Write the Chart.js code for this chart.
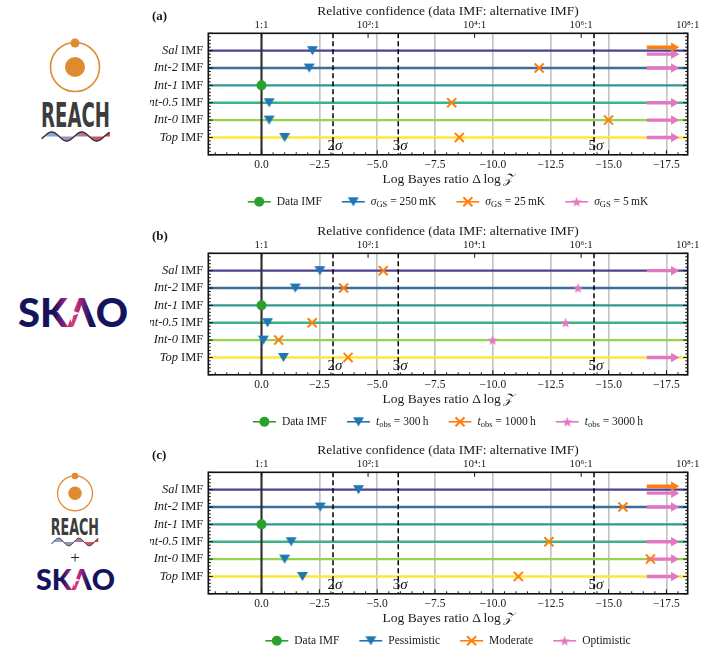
<!DOCTYPE html>
<html>
<head>
<meta charset="utf-8">
<script src="https://cdn.jsdelivr.net/npm/chart.js@4.4.1/dist/chart.umd.min.js"></script>
<style>
  body { margin: 0; background: #fff; width: 709px; height: 670px; position: relative; overflow: hidden; }
  .panel { position: absolute; left: 150px; width: 559px; }
  #logos { position: absolute; left: 0; top: 0; }
</style>
</head>
<body>
<div class="panel" style="top:0;height:220px"><canvas id="chartA"></canvas></div>
<div class="panel" style="top:220px;height:219px"><canvas id="chartB"></canvas></div>
<div class="panel" style="top:439px;height:231px"><canvas id="chartC"></canvas></div>

<svg id="logos" width="150" height="670" viewBox="0 0 150 670">
  <defs>
    <linearGradient id="waveA" gradientUnits="userSpaceOnUse" x1="42" y1="0" x2="110" y2="0">
      <stop offset="0" stop-color="#86aeea"/><stop offset="0.5" stop-color="#a585b2"/><stop offset="1" stop-color="#e43a3a"/>
    </linearGradient>
    <linearGradient id="waveC" gradientUnits="userSpaceOnUse" x1="52" y1="0" x2="98" y2="0">
      <stop offset="0" stop-color="#86aeea"/><stop offset="0.5" stop-color="#a585b2"/><stop offset="1" stop-color="#e43a3a"/>
    </linearGradient>
    <linearGradient id="skaoB" gradientUnits="userSpaceOnUse" x1="18" y1="0" x2="128" y2="0">
      <stop offset="0" stop-color="#14135c"/><stop offset="0.33" stop-color="#14135c"/>
      <stop offset="0.42" stop-color="#8e1f7e"/><stop offset="0.50" stop-color="#e33c6e"/>
      <stop offset="0.58" stop-color="#8e1f7e"/><stop offset="0.66" stop-color="#14135c"/>
      <stop offset="1" stop-color="#14135c"/>
    </linearGradient>
    <linearGradient id="skaoC" gradientUnits="userSpaceOnUse" x1="36" y1="0" x2="115" y2="0">
      <stop offset="0" stop-color="#14135c"/><stop offset="0.33" stop-color="#14135c"/>
      <stop offset="0.42" stop-color="#8e1f7e"/><stop offset="0.50" stop-color="#e33c6e"/>
      <stop offset="0.58" stop-color="#8e1f7e"/><stop offset="0.66" stop-color="#14135c"/>
      <stop offset="1" stop-color="#14135c"/>
    </linearGradient>
  </defs>

  <!-- REACH (a) -->
  <circle cx="75" cy="67" r="24.5" fill="none" stroke="#e08b2f" stroke-width="1.6"/>
  <circle cx="75" cy="43" r="4.5" fill="#e08b2f"/>
  <circle cx="75" cy="67" r="10" fill="#e08b2f"/>
  <text x="41" y="126.7" font-family="DejaVu Sans Condensed, Liberation Sans" font-weight="bold" font-size="34"
        textLength="69" lengthAdjust="spacingAndGlyphs" fill="#3c3c3c">REACH</text>
  <path id="waveAFill" fill="url(#waveA)"/>
  <path id="waveALine" fill="none" stroke="#2b2b2b" stroke-width="1.3"/>

  <!-- SKAO (b) -->
  <text x="18" y="326.7" font-family="Lato, Roboto, sans-serif" font-weight="900" font-size="39"
        textLength="110" lengthAdjust="spacingAndGlyphs" fill="url(#skaoB)">SKΛO</text>
  <path d="M71.5,304 L73.3,311 L80,313.3 L73.3,315.6 L71.5,322.5 L69.7,315.6 L63,313.3 L69.7,311 Z" fill="#fff"/>

  <!-- REACH + SKAO (c) -->
  <circle cx="75" cy="493.3" r="17.5" fill="none" stroke="#e08b2f" stroke-width="1.3"/>
  <circle cx="75" cy="476" r="3.3" fill="#e08b2f"/>
  <circle cx="75" cy="493.3" r="6.7" fill="#e08b2f"/>
  <text x="50.7" y="535" font-family="DejaVu Sans Condensed, Liberation Sans" font-weight="bold" font-size="23"
        textLength="48.3" lengthAdjust="spacingAndGlyphs" fill="#3c3c3c">REACH</text>
  <path id="waveCFill" fill="url(#waveC)"/>
  <path id="waveCLine" fill="none" stroke="#2b2b2b" stroke-width="1"/>
  <text x="75" y="563" text-anchor="middle" font-family="Liberation Serif" font-size="17" fill="#222">+</text>
  <text x="36" y="590" font-family="Lato, Roboto, sans-serif" font-weight="900" font-size="28"
        textLength="79" lengthAdjust="spacingAndGlyphs" fill="url(#skaoC)">SKΛO</text>
  <path d="M74.3,573.5 L75.6,578.4 L80.5,580 L75.6,581.6 L74.3,586.5 L73,581.6 L68.1,580 L73,578.4 Z" fill="#fff"/>
</svg>

<script>
// values beyond the right end of the axis are drawn as arrows
const OFF = -Infinity;

const imfNames = ["Sal", "Int-2", "Int-1", "Int-0.5", "Int-0", "Top"];
const xTicks = [0, -2.5, -5, -7.5, -10, -12.5, -15, -17.5];
const oddsPowers = [0, 2, 4, 6, 8];          // top axis: 10^k : 1
const sigmaNames = ["2", "3", "5"];
const sigmaLogZ = [-3.09, -5.91, -14.37];
const dataImf = [null, null, 0, null, null, null];

// (a) REACH, noise levels in mK
const reachNoise = [250, 25, 5];
const reachHigh = [-2.2, -2.06, null, -0.33, -0.33, -1.0];
const reachMid = [OFF, -12.0, null, -8.22, -15.0, -8.55];
const reachLow = [OFF, OFF, null, OFF, OFF, OFF];

// (b) SKAO, integration time in hours
const skaoHours = [300, 1000, 3000];
const skao300 = [-2.52, -1.46, null, -0.26, -0.08, -0.95];
const skao1000 = [-5.26, -3.55, null, -2.19, -0.74, -3.74];
const skao3000 = [OFF, -13.68, null, -13.14, -9.99, OFF];

// (c) REACH + SKAO
const jointNames = ["Pessimistic", "Moderate", "Optimistic"];
const jointPess = [-4.19, -2.54, null, -1.28, -1.0, -1.77];
const jointMod = [OFF, -15.62, null, -12.42, -16.81, -11.1];
const jointOpt = [OFF, OFF, null, OFF, OFF, OFF];

// styles
const rowColors = ["#4c4390", "#3a6e9b", "#2f9893", "#3db383", "#93d64c", "#fde73a"];
const GREEN = "#2ca02c", BLUE = "#1f77b4", ORANGE = "#ff7f0e", PINK = "#e377c2";
const SERIF = '"Liberation Serif", "Times New Roman", serif';
const f = (size, style) => (style ? style + " " : "") + size + "px " + SERIF;
const X_MIN = -18.42, X_MAX = 2.3;
const PLOT_TOP = 33.3, PLOT_BOTTOM = 154.8;
const ARROW_FROM = -16.65, ARROW_TO = -17.82;

// marker images
function markerCanvas(size, draw) {
  const c = document.createElement("canvas");
  c.width = c.height = size;
  draw(c.getContext("2d"), size / 2);
  return c;
}
const triImg = markerCanvas(13, (g, m) => {
  g.fillStyle = BLUE;
  g.beginPath();
  g.moveTo(m - 5.5, m - 4.6); g.lineTo(m + 5.5, m - 4.6); g.lineTo(m, m + 4.6);
  g.closePath(); g.fill();
});
const starImg = markerCanvas(13, (g, m) => {
  g.fillStyle = PINK;
  g.beginPath();
  for (let k = 0; k < 10; k++) {
    const r = k % 2 ? 2.3 : 5.4;
    const ang = -Math.PI / 2 + k * Math.PI / 5;
    g.lineTo(m + r * Math.cos(ang), m + 0.5 + r * Math.sin(ang));
  }
  g.closePath(); g.fill();
});

function drawRich(ctx, segs, x, y, align) {
  let w = 0;
  segs.forEach(s => { ctx.font = s.font; w += ctx.measureText(s.t).width; });
  let cx = align === "center" ? x - w / 2 : align === "right" ? x - w : x;
  ctx.textBaseline = "middle";
  ctx.textAlign = "left";
  segs.forEach(s => {
    ctx.font = s.font;
    ctx.fillText(s.t, cx, y + (s.dy || 0));
    cx += ctx.measureText(s.t).width;
  });
  return w;
}
function richWidth(ctx, segs) {
  let w = 0;
  segs.forEach(s => { ctx.font = s.font; w += ctx.measureText(s.t).width; });
  return w;
}

function drawMarker(ctx, mk, color, x, y) {
  if (mk === "circle") {
    ctx.fillStyle = color;
    ctx.beginPath(); ctx.arc(x, y, 5, 0, Math.PI * 2); ctx.fill();
  } else if (mk === "x") {
    ctx.strokeStyle = color; ctx.lineWidth = 2;
    const d = 4.5;
    ctx.beginPath();
    ctx.moveTo(x - d, y - d); ctx.lineTo(x + d, y + d);
    ctx.moveTo(x - d, y + d); ctx.lineTo(x + d, y - d);
    ctx.stroke();
  } else {
    const img = mk === "tri" ? triImg : starImg;
    ctx.drawImage(img, x - img.width / 2, y - img.height / 2);
  }
}

const supDigits = { 0: "⁰", 2: "²", 4: "⁴", 6: "⁶", 8: "⁸" };
const oddsLabel = p => (p === 0 ? "1:1" : "10" + supDigits[p] + ":1");
const tickLabel = v => (v === 0 ? "0.0" : "\u2212" + Math.abs(v).toFixed(1));

function decor(tag, legendItems) {
  return {
    id: "decor" + tag,
    beforeDatasetsDraw(chart) {
      const { ctx, chartArea: a, scales: { x, y } } = chart;
      ctx.save();
      imfNames.forEach((n, i) => {
        const py = y.getPixelForValue(i);
        ctx.strokeStyle = rowColors[i];
        ctx.lineWidth = 2.4;
        ctx.beginPath(); ctx.moveTo(a.left, py); ctx.lineTo(a.right, py); ctx.stroke();
      });
      const x0 = x.getPixelForValue(0);
      ctx.strokeStyle = "#333"; ctx.lineWidth = 2.2;
      ctx.beginPath(); ctx.moveTo(x0, a.top); ctx.lineTo(x0, a.bottom); ctx.stroke();

      sigmaLogZ.forEach((v, k) => {
        const px = x.getPixelForValue(v);
        ctx.strokeStyle = "#000"; ctx.lineWidth = 1.5; ctx.setLineDash([5, 3]);
        ctx.beginPath(); ctx.moveTo(px, a.top); ctx.lineTo(px, a.bottom); ctx.stroke();
        ctx.setLineDash([]);
        ctx.fillStyle = "#111";
        drawRich(ctx, [{ t: sigmaNames[k], font: f(15) }, { t: "σ", font: f(15, "italic") }],
          px + 2, a.bottom - 9, "center");
      });
      ctx.restore();
    },
    afterDraw(chart) {
      const { ctx, chartArea: a, scales: { x, x2, y } } = chart;
      ctx.save();
      ctx.strokeStyle = "#111";
      ctx.lineWidth = 1;
      ctx.beginPath();
      xTicks.forEach(v => {
        const px = x.getPixelForValue(v);
        ctx.moveTo(px, a.bottom); ctx.lineTo(px, a.bottom - 4.5);
      });
      for (let k = Math.ceil(X_MIN / 0.5); k <= Math.floor(X_MAX / 0.5); k++) {
        if (k % 5 === 0) continue;
        const px = x.getPixelForValue(k * 0.5);
        ctx.moveTo(px, a.bottom); ctx.lineTo(px, a.bottom - 2.5);
      }
      oddsPowers.forEach(p => {
        const px = x2.getPixelForValue(-p * Math.LN10);
        ctx.moveTo(px, a.top); ctx.lineTo(px, a.top + 4.5);
      });
      for (let k = -5; k <= 30; k++) {
        const v = k * 0.2;
        const py = y.getPixelForValue(v);
        const len = k % 5 === 0 ? 4.5 : 2.5;
        ctx.moveTo(a.left, py); ctx.lineTo(a.left + len, py);
        ctx.moveTo(a.right, py); ctx.lineTo(a.right - len, py);
      }
      ctx.stroke();

      ctx.lineWidth = 1.6;
      ctx.strokeRect(a.left, a.top, a.right - a.left, a.bottom - a.top);

      ctx.fillStyle = "#1a1a1a";
      imfNames.forEach((n, i) => {
        const py = y.getPixelForValue(i);
        drawRich(ctx, [{ t: n, font: f(12.5, "italic") }, { t: " IMF", font: f(12.5) }], a.left - 5, py, "right");
      });

      const cx = (a.left + a.right) / 2;
      drawRich(ctx, [{ t: "Relative confidence (data IMF: alternative IMF)", font: f(13.5) }], cx, a.top - 22, "center");
      drawRich(ctx, [{ t: "Log Bayes ratio \u0394\u2009log\u2009", font: f(13.5) }, { t: "\uD835\uDCB5", font: f(13.5, "italic") }],
        cx, a.bottom + 24.5, "center");
      drawRich(ctx, [{ t: tag, font: f(13, "bold") }], 2, a.top - 17, "left");

      // legend
      const handle = 23, gapText = 6, gapItem = 20;
      const widths = legendItems.map(it => handle + gapText + richWidth(ctx, it.segs));
      const total = widths.reduce((s, w) => s + w, 0) + gapItem * (legendItems.length - 1);
      let lx = cx - total / 2;
      const ly = a.bottom + 47;
      legendItems.forEach((it, k) => {
        ctx.strokeStyle = it.color; ctx.lineWidth = 1.6;
        ctx.beginPath(); ctx.moveTo(lx, ly); ctx.lineTo(lx + handle, ly); ctx.stroke();
        drawMarker(ctx, it.mk, it.color, lx + handle / 2, ly);
        ctx.fillStyle = "#1a1a1a";
        drawRich(ctx, it.segs, lx + handle + gapText, ly, "left");
        lx += widths[k] + gapItem;
      });
      ctx.restore();
    }
  };
}

function scatterSet(values, style) {
  const pts = [];
  values.forEach((v, i) => { if (v !== null && Number.isFinite(v)) pts.push({ x: v, y: i }); });
  return Object.assign({ type: "scatter", data: pts, order: 0 }, style);
}

function arrowSets(values, color, shifts) {
  const sets = [];
  values.forEach((v, i) => {
    if (v !== OFF) return;
    const yy = i + shifts[i];
    sets.push({
      type: "line",
      data: [{ x: ARROW_FROM, y: yy }, { x: ARROW_TO, y: yy }],
      borderColor: color, borderWidth: 3.4, borderCapStyle: "butt",
      pointRadius: c => (c.dataIndex === 1 ? 5.5 : 0),
      pointStyle: "triangle", pointRotation: 90,
      pointBackgroundColor: color, pointBorderColor: color, pointBorderWidth: 0,
      order: 1
    });
  });
  return sets;
}

function buildPanel(id, tag, s1, s2, s3, legendItems) {
  const both = imfNames.map((_, i) => s2[i] === OFF && s3[i] === OFF);
  const datasets = [
    scatterSet(dataImf, { pointStyle: "circle", pointRadius: 5, pointBackgroundColor: GREEN, pointBorderWidth: 0 }),
    scatterSet(s1, { pointStyle: triImg, pointRadius: 5 }),
    scatterSet(s2, { pointStyle: "crossRot", pointRadius: 6.4, pointBorderColor: ORANGE, pointBorderWidth: 2 }),
    scatterSet(s3, { pointStyle: starImg, pointRadius: 6 }),
    ...arrowSets(s2, ORANGE, both.map(b => (b ? -0.2 : 0))),
    ...arrowSets(s3, PINK, both.map(b => (b ? 0.2 : 0)))
  ];

  new Chart(document.getElementById(id), {
    type: "scatter",
    data: { datasets },
    options: {
      responsive: true,
      maintainAspectRatio: false,
      animation: false,
      events: [],
      layout: { padding: { left: 0, right: 21.3, top: 0, bottom: 0 } },
      plugins: { legend: { display: false }, tooltip: { enabled: false } },
      scales: {
        x: {
          type: "linear", position: "bottom", min: X_MIN, max: X_MAX, reverse: true, bounds: "data",
          afterBuildTicks: s => { s.ticks = xTicks.map(v => ({ value: v })); },
          afterFit: s => { s.height = s.chart.height - PLOT_BOTTOM; },
          ticks: { callback: v => tickLabel(v), font: { family: SERIF, size: 11.5 }, color: "#1a1a1a",
                   padding: 3, maxRotation: 0, autoSkip: false },
          grid: { drawTicks: false, lineWidth: 1.7,
                  color: c => (c.tick && c.tick.value === 0 ? "rgba(0,0,0,0)" : "#c4c4c4") },
          border: { display: false }
        },
        x2: {
          type: "linear", position: "top", axis: "x", min: X_MIN, max: X_MAX, reverse: true, bounds: "data",
          afterBuildTicks: s => { s.ticks = oddsPowers.map(p => ({ value: -p * Math.LN10 })); },
          afterFit: s => { s.height = PLOT_TOP; },
          ticks: { callback: v => oddsLabel(Math.round(-v / Math.LN10)), font: { family: SERIF, size: 11 },
                   color: "#1a1a1a", padding: 2, maxRotation: 0, autoSkip: false },
          grid: { display: false, drawTicks: false },
          border: { display: false }
        },
        y: {
          type: "linear", min: -1, max: 6, reverse: true,
          afterFit: s => { s.width = 58.3; },
          ticks: { display: false },
          grid: { display: false, drawTicks: false },
          border: { display: false }
        }
      }
    },
    plugins: [decor(tag, legendItems)]
  });
}

const plain = t => [{ t, font: f(11.5) }];
const sigmaGS = v => [{ t: "σ", font: f(11.5, "italic") }, { t: "GS", font: f(8.5), dy: 2.5 }, { t: " = " + v + "\u2009mK", font: f(11.5) }];
const tObs = v => [{ t: "t", font: f(11.5, "italic") }, { t: "obs", font: f(8.5), dy: 2.5 }, { t: " = " + v + "\u2009h", font: f(11.5) }];
const legendOf = labels => [
  { mk: "circle", color: GREEN, segs: plain("Data IMF") },
  { mk: "tri", color: BLUE, segs: labels[0] },
  { mk: "x", color: ORANGE, segs: labels[1] },
  { mk: "star", color: PINK, segs: labels[2] }
];

buildPanel("chartA", "(a)", reachHigh, reachMid, reachLow, legendOf(reachNoise.map(sigmaGS)));
buildPanel("chartB", "(b)", skao300, skao1000, skao3000, legendOf(skaoHours.map(tObs)));
buildPanel("chartC", "(c)", jointPess, jointMod, jointOpt, legendOf(jointNames.map(plain)));

// REACH wave under the logo text
function wave(x0, x1, yc, amp, period, phase) {
  let line = "", fill = "M" + x0 + "," + yc;
  for (let px = x0; px <= x1 + 0.01; px += 0.5) {
    const py = yc - amp * Math.sin(2 * Math.PI * (px - x0) / period + phase);
    line += (line ? " L" : "M") + px.toFixed(2) + "," + py.toFixed(2);
    fill += " L" + px.toFixed(2) + "," + py.toFixed(2);
  }
  fill += " L" + x1 + "," + yc + " Z";
  return { line, fill };
}
const wa = wave(41.7, 110, 136.5, 4.5, 30, -Math.PI / 6);
document.getElementById("waveALine").setAttribute("d", wa.line);
document.getElementById("waveAFill").setAttribute("d", wa.fill);
const wc = wave(51.7, 98.3, 542, 3.8, 20.5, -Math.PI / 6);
document.getElementById("waveCLine").setAttribute("d", wc.line);
document.getElementById("waveCFill").setAttribute("d", wc.fill);
</script>
</body>
</html>
